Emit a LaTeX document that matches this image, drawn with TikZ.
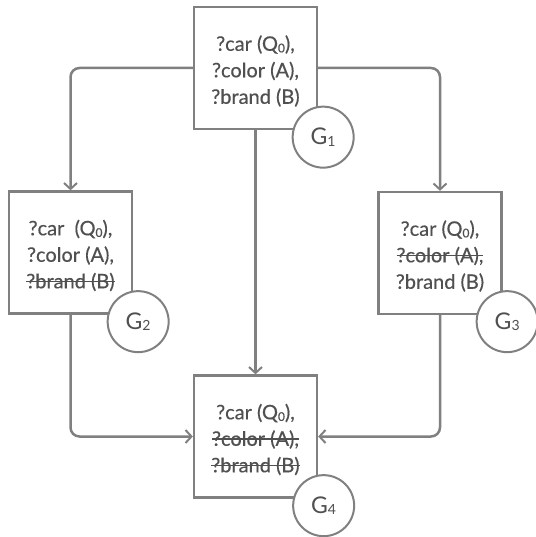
\documentclass[tikz,border=0pt]{standalone}
\usepackage{fontspec}
\setmainfont{Lato}
\usetikzlibrary{arrows.meta}
\definecolor{linegray}{HTML}{808080}
\definecolor{textgray}{HTML}{505050}
\newcommand\lowidx[1]{\raisebox{-0.08em}{\fontsize{12}{12}\selectfont #1}}
\newcommand\glowidx[1]{\raisebox{-0.05em}{\fontsize{14}{14}\selectfont #1}}
\newcommand\strk[1]{\setbox0=\hbox{#1}\rlap{\rule[0.3em]{\wd0}{0.07em}}\box0}
\begin{document}
\begin{tikzpicture}[x=1pt,y=-1pt,
  box/.style={draw=linegray, line width=2.3pt, fill=white, minimum width=123pt, minimum height=122pt, inner sep=0pt},
  txt/.style={inner sep=0pt, align=center, text=textgray, font=\fontsize{20}{26.5}\selectfont\addfontfeatures{FakeBold=0.4}},
  gcirc/.style={circle, draw=linegray, line width=2pt, fill=white, minimum size=61pt, inner sep=0pt, text=textgray, font=\fontsize{23}{23}\selectfont},
  conn/.style={draw=linegray, line width=2.5pt, rounded corners=9pt},
  arr/.style={conn, -{Straight Barb[length=6pt, width=13pt, line width=2pt]}}
]
\useasboundingbox (0,0) rectangle (535,537);
\node[box] (g1) at (255.5,68) {};
\node[box] (g2) at (70.5,252.5) {};
\node[box] (g3) at (440,253) {};
\node[box] (g4) at (255.5,436.5) {};
\node[txt] (t1) at ([yshift=-3pt]g1.center) {?car (Q\lowidx{0}),\\ ?color (A),\\ ?brand (B)};
\node[txt] (t2) at ([yshift=-3pt]g2.center) {?car\ \ (Q\lowidx{0}),\\ ?color (A),\\ \strk{?brand (B)}};
\node[txt] (t3) at ([yshift=-3pt]g3.center) {?car (Q\lowidx{0}),\\ \strk{?color (A),}\\ ?brand (B)};
\node[txt] (t4) at ([yshift=-3pt]g4.center) {?car (Q\lowidx{0}),\\ \strk{?color (A),}\\ \strk{?brand (B)}};
\draw[arr] (g1.west) -| (g2.north);
\draw[arr] (g1.east) -| (g3.north);
\draw[arr] (g1.south) -- (g4.north);
\draw[arr] (g2.south) |- (g4.west);
\draw[arr] (g3.south) |- (g4.east);
\node[gcirc] (c1) at (g1.south east) [xshift=5pt, yshift=-7pt] {G\glowidx{1}};
\node[gcirc] (c2) at (g2.south east) [xshift=5pt, yshift=-7pt] {G\glowidx{2}};
\node[gcirc] (c3) at (g3.south east) [xshift=4.5pt, yshift=-6.5pt] {G\glowidx{3}};
\node[gcirc] (c4) at (g4.south east) [xshift=5.5pt, yshift=-7pt] {G\glowidx{4}};
\end{tikzpicture}
\end{document}
